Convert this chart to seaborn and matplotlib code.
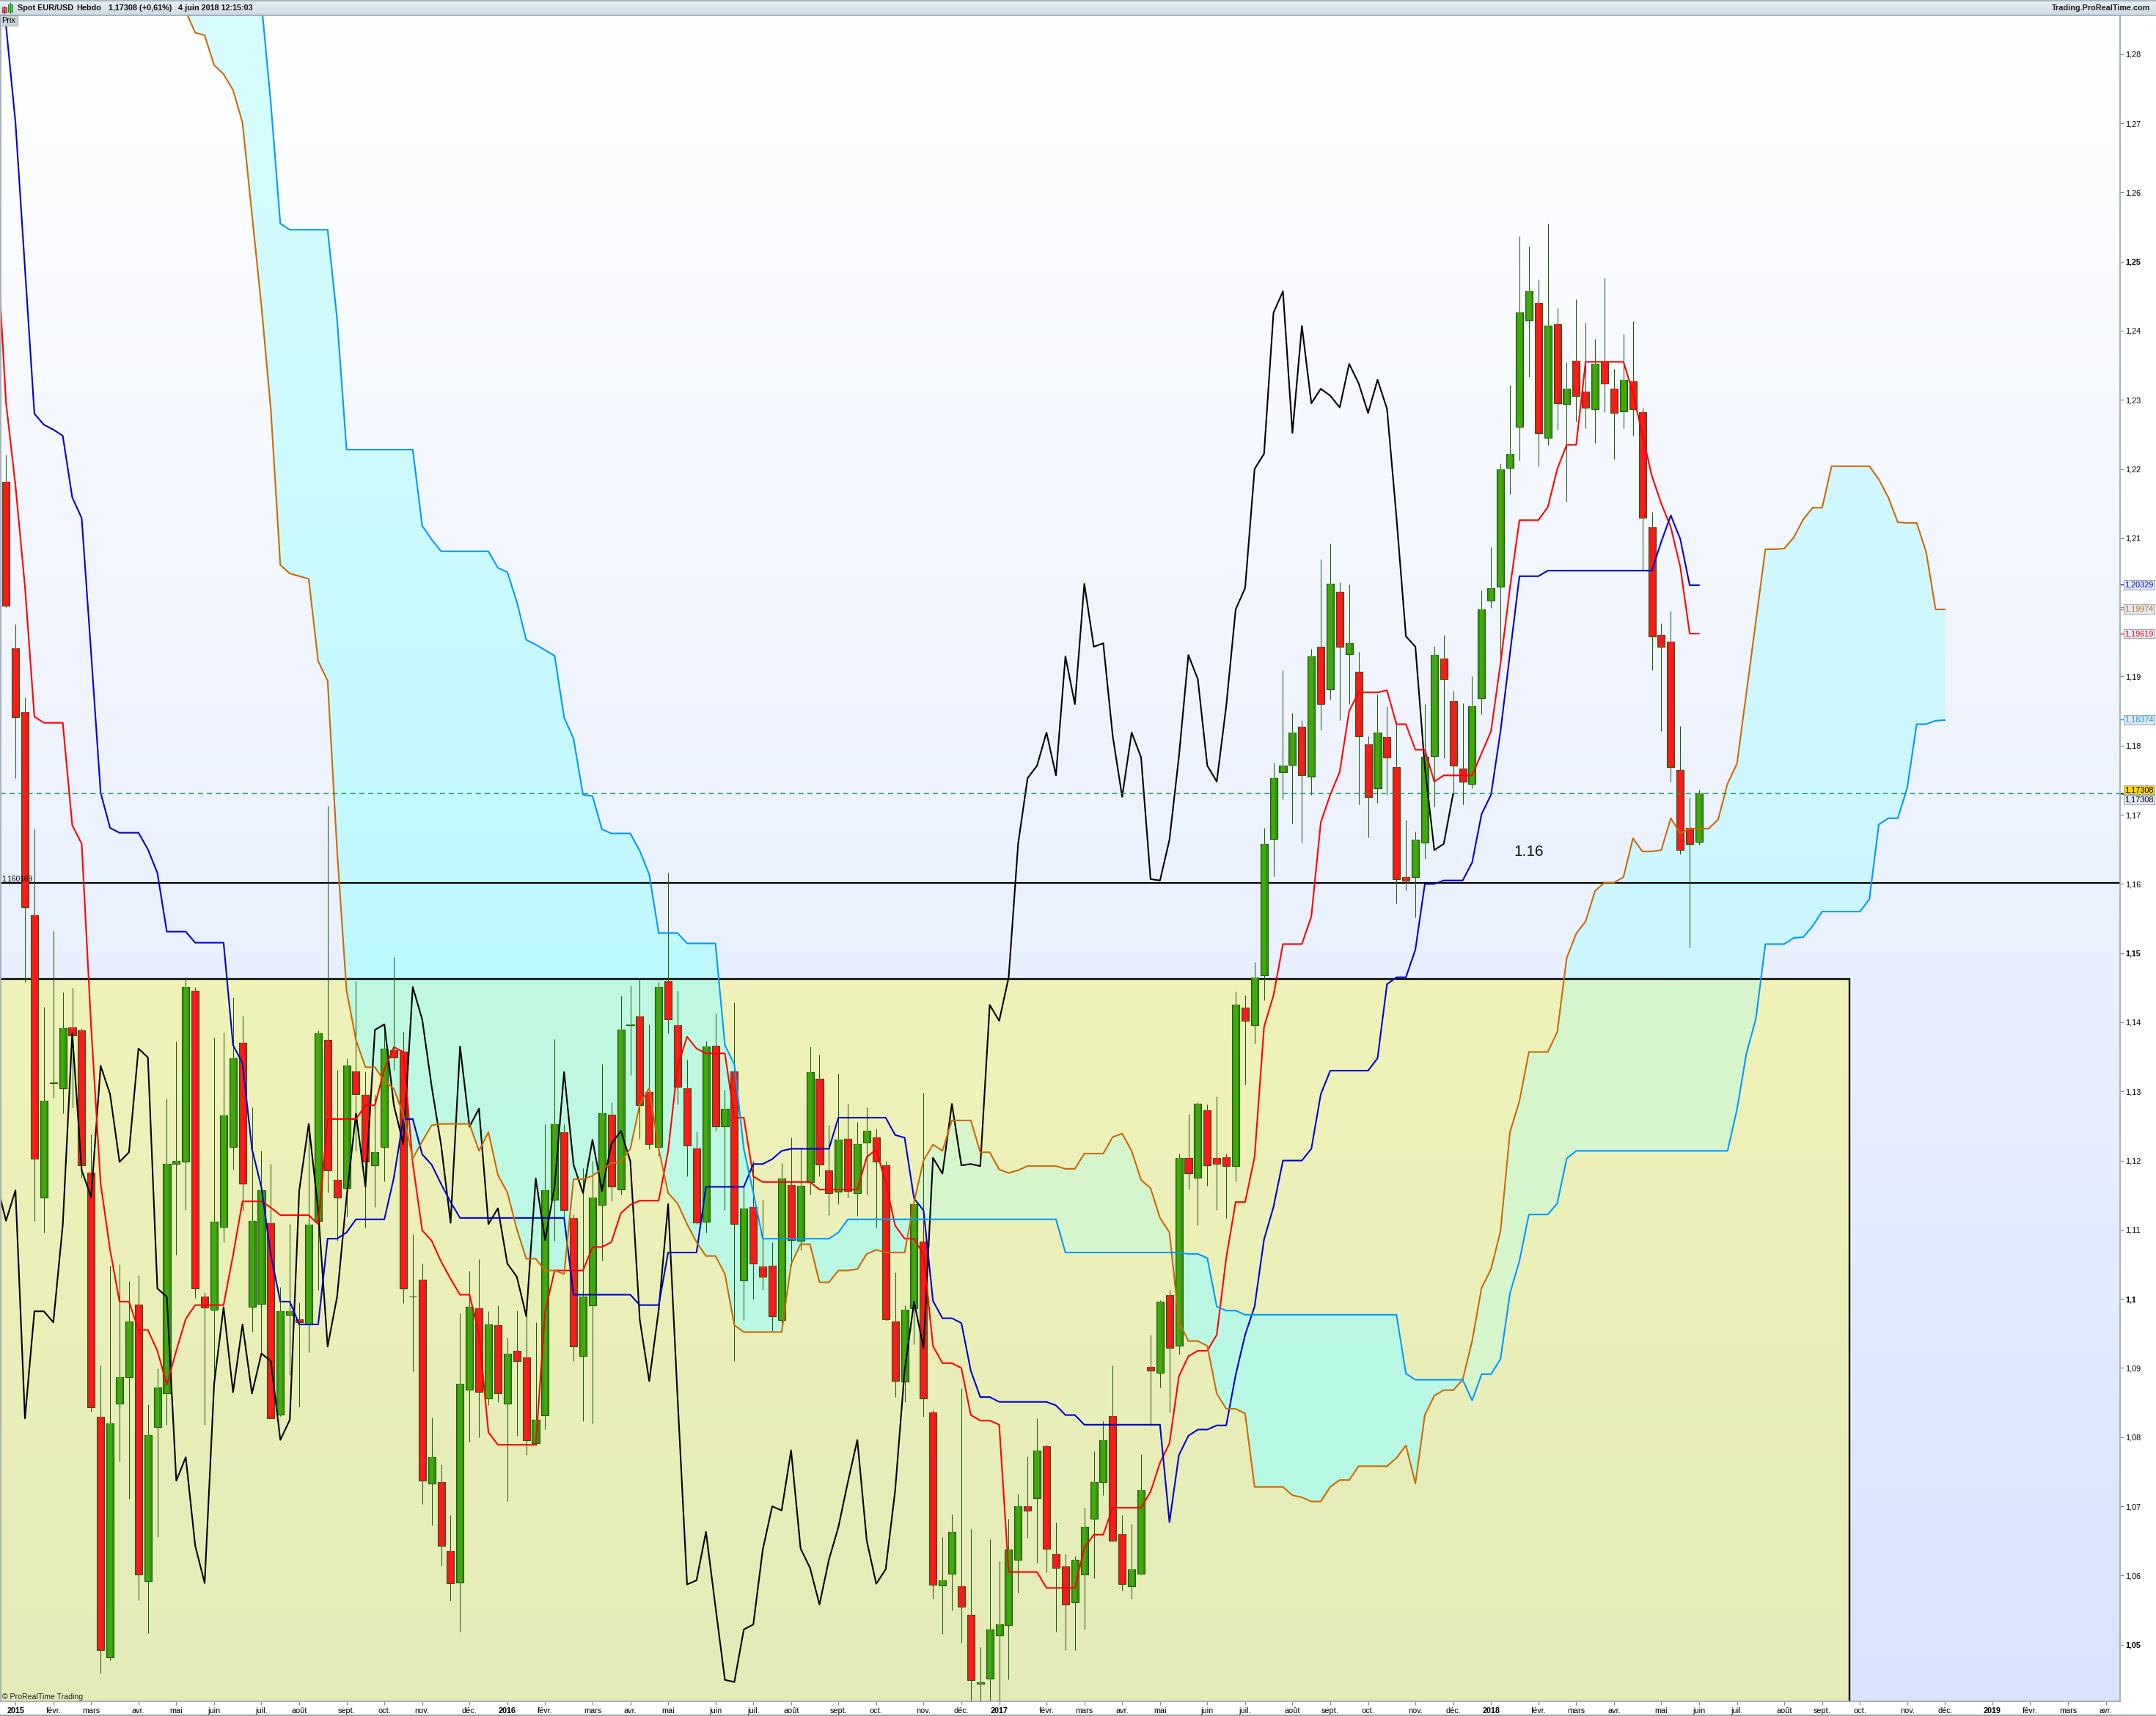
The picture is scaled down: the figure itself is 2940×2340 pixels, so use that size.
import numpy
import seaborn
import matplotlib.pyplot as plot
from matplotlib.path import Path
from matplotlib.patches import Rectangle

# values, one entry per week, week 0 is the first candle
opens = [1.2182, 1.1941, 1.1849, 1.1555, 1.1146, 1.1312, 1.1305, 1.1393, 1.1388, 1.1183,
         1.0829, 1.0482, 1.0849, 1.0887, 1.0992, 1.0592, 1.0815, 1.0863, 1.1195, 1.1199,
         1.1446, 1.1003, 1.0984, 1.1104, 1.1220, 1.1370, 1.0989, 1.0993, 1.1109, 1.0833,
         1.0977, 1.0971, 1.0963, 1.1113, 1.1374, 1.1172, 1.1160, 1.1329, 1.1295, 1.1193,
         1.1220, 1.1360, 1.1358, 1.1003, 1.1028, 1.0733, 1.0735, 1.0635, 1.0590, 1.0869,
         1.0986, 1.0856, 1.0962, 1.0849, 1.0925, 1.0915, 1.0791, 1.0832, 1.1143, 1.1241,
         1.1117, 1.0917, 1.0991, 1.1136, 1.1266, 1.1158, 1.1396, 1.1408, 1.1299, 1.1220,
         1.1459, 1.1396, 1.1304, 1.1218, 1.1111, 1.1366, 1.1249, 1.1329, 1.1027, 1.1133,
         1.1047, 1.1048, 1.0969, 1.1165, 1.1084, 1.1169, 1.1318, 1.1186, 1.1155, 1.1231,
         1.1153, 1.1226, 1.1234, 1.1193, 1.0967, 1.0880, 1.0986, 1.1083, 1.0836, 1.0586,
         1.0603, 1.0584, 1.0543, 1.0443, 1.0451, 1.0513, 1.0528, 1.0623, 1.0700, 1.0712,
         1.0787, 1.0631, 1.0613, 1.0561, 1.0601, 1.0682, 1.0735, 1.0831, 1.0660, 1.0584,
         1.0603, 1.0902, 1.0893, 1.1005, 1.0932, 1.1204, 1.1175, 1.1273, 1.1204, 1.1205,
         1.1192, 1.1421, 1.1396, 1.1468, 1.1665, 1.1762, 1.1772, 1.1827, 1.1755, 1.1943,
         1.1881, 1.2022, 1.1932, 1.1907, 1.1802, 1.1738, 1.1812, 1.1769, 1.1610, 1.1610,
         1.1660, 1.1785, 1.1926, 1.1864, 1.1767, 1.1745, 1.1869, 1.2010, 1.2030, 1.2202,
         1.2261, 1.2415, 1.2440, 1.2245, 1.2409, 1.2294, 1.2356, 1.2312, 1.2287, 1.2355,
         1.2316, 1.2283, 1.2327, 1.2282, 1.2116, 1.1960, 1.1950, 1.1765, 1.1681, 1.1661]
highs = [1.2221, 1.1976, 1.1870, 1.1680, 1.1422, 1.1533, 1.1443, 1.1450, 1.1392, 1.1238,
         1.0904, 1.1048, 1.1050, 1.1026, 1.1034, 1.0848, 1.0899, 1.1290, 1.1372, 1.1466,
         1.1451, 1.1010, 1.1378, 1.1385, 1.1436, 1.1409, 1.1277, 1.1214, 1.1195, 1.1017,
         1.1108, 1.0995, 1.1253, 1.1388, 1.1713, 1.1331, 1.1348, 1.1459, 1.1329, 1.1295,
         1.1395, 1.1494, 1.1386, 1.1094, 1.1051, 1.0828, 1.0761, 1.0687, 1.0979, 1.1040,
         1.1057, 1.0982, 1.0991, 1.0944, 1.0983, 1.0982, 1.0966, 1.1253, 1.1376, 1.1253,
         1.1122, 1.1189, 1.1200, 1.1340, 1.1284, 1.1438, 1.1453, 1.1464, 1.1397, 1.1458,
         1.1616, 1.1446, 1.1346, 1.1242, 1.1372, 1.1413, 1.1302, 1.1429, 1.1165, 1.1200,
         1.1143, 1.1082, 1.1196, 1.1233, 1.1219, 1.1365, 1.1353, 1.1251, 1.1326, 1.1282,
         1.1256, 1.1277, 1.1246, 1.1200, 1.1038, 1.0991, 1.1140, 1.1298, 1.0839, 1.0656,
         1.0688, 1.0871, 1.0667, 1.0497, 1.0652, 1.0621, 1.0682, 1.0718, 1.0772, 1.0827,
         1.0789, 1.0677, 1.0631, 1.0628, 1.0698, 1.0780, 1.0823, 1.0904, 1.0687, 1.0675,
         1.0775, 1.0948, 1.0998, 1.1013, 1.1210, 1.1267, 1.1284, 1.1281, 1.1293, 1.1210,
         1.1444, 1.1439, 1.1487, 1.1681, 1.1775, 1.1909, 1.1847, 1.1837, 1.1940, 1.2069,
         1.2092, 1.2036, 1.2033, 1.1936, 1.1814, 1.1874, 1.1857, 1.1835, 1.1693, 1.1676,
         1.1860, 1.1944, 1.1960, 1.1879, 1.1861, 1.1900, 1.2025, 1.2087, 1.2208, 1.2322,
         1.2537, 1.2522, 1.2474, 1.2555, 1.2433, 1.2354, 1.2446, 1.2412, 1.2388, 1.2476,
         1.2345, 1.2396, 1.2414, 1.2289, 1.2138, 1.1977, 1.1995, 1.1828, 1.1726, 1.1736]
lows = [1.2000, 1.1753, 1.1458, 1.1113, 1.1096, 1.1291, 1.1268, 1.1277, 1.1175, 1.0837,
        1.0458, 1.0477, 1.0765, 1.0711, 1.0564, 1.0517, 1.0656, 1.0818, 1.1064, 1.1129,
        1.1001, 1.0818, 1.0879, 1.1082, 1.1187, 1.1127, 1.0952, 1.0918, 1.0827, 1.0830,
        1.0890, 1.0844, 1.0923, 1.1013, 1.1154, 1.1084, 1.1119, 1.1214, 1.1103, 1.1133,
        1.1170, 1.1331, 1.0994, 1.0895, 1.0703, 1.0672, 1.0614, 1.0563, 1.0519, 1.0793,
        1.0800, 1.0846, 1.0851, 1.0707, 1.0802, 1.0774, 1.0788, 1.0811, 1.1084, 1.1119,
        1.0910, 1.0823, 1.0820, 1.1055, 1.1141, 1.1151, 1.1324, 1.1231, 1.1216, 1.1207,
        1.1384, 1.1281, 1.1177, 1.1108, 1.1096, 1.1243, 1.1129, 1.0910, 1.0969, 1.0999,
        1.1013, 1.0953, 1.0964, 1.1048, 1.1070, 1.1151, 1.1177, 1.1121, 1.1137, 1.1147,
        1.1120, 1.1151, 1.1103, 1.0968, 1.0858, 1.0851, 1.0934, 1.0829, 1.0566, 1.0516,
        1.0550, 1.0503, 1.0416, 1.0416, 1.0416, 1.0416, 1.0450, 1.0575, 1.0654, 1.0618,
        1.0605, 1.0519, 1.0492, 1.0492, 1.0522, 1.0596, 1.0716, 1.0649, 1.0578, 1.0566,
        1.0601, 1.0817, 1.0872, 1.0836, 1.0920, 1.1158, 1.1106, 1.1164, 1.1129, 1.1117,
        1.1170, 1.1310, 1.1369, 1.1432, 1.1611, 1.1722, 1.1687, 1.1660, 1.1729, 1.1822,
        1.1867, 1.1837, 1.1860, 1.1715, 1.1667, 1.1717, 1.1729, 1.1572, 1.1591, 1.1552,
        1.1636, 1.1712, 1.1782, 1.1729, 1.1715, 1.1738, 1.1845, 1.1999, 1.1916, 1.2164,
        1.2212, 1.2333, 1.2204, 1.2234, 1.2257, 1.2153, 1.2268, 1.2259, 1.2238, 1.2282,
        1.2214, 1.2259, 1.2248, 1.2053, 1.1909, 1.1821, 1.1748, 1.1643, 1.1508, 1.1657]
closes = [1.2002, 1.1841, 1.1566, 1.1203, 1.1286, 1.1313, 1.1391, 1.1381, 1.1193, 1.0843,
          1.0492, 1.0820, 1.0887, 1.0967, 1.0601, 1.0803, 1.0872, 1.1195, 1.1200, 1.1451,
          1.1015, 1.0987, 1.1111, 1.1265, 1.1348, 1.1167, 1.1113, 1.1157, 1.0827, 1.0982,
          1.0982, 1.0966, 1.1107, 1.1384, 1.1186, 1.1147, 1.1337, 1.1296, 1.1198, 1.1212,
          1.1362, 1.1349, 1.1015, 1.1003, 1.0737, 1.0771, 1.0643, 1.0589, 1.0877, 1.0988,
          1.0865, 1.0963, 1.0863, 1.0921, 1.0910, 1.0796, 1.0825, 1.1157, 1.1253, 1.1128,
          1.0931, 1.1003, 1.1147, 1.1268, 1.1162, 1.1389, 1.1397, 1.1280, 1.1224, 1.1451,
          1.1404, 1.1307, 1.1222, 1.1110, 1.1365, 1.1249, 1.1275, 1.1108, 1.1131, 1.1051,
          1.1032, 1.0975, 1.1174, 1.1085, 1.1163, 1.1328, 1.1194, 1.1153, 1.1230, 1.1156,
          1.1224, 1.1243, 1.1199, 1.0970, 1.0881, 1.0984, 1.1137, 1.0856, 1.0587, 1.0593,
          1.0663, 1.0555, 1.0449, 1.0446, 1.0522, 1.0529, 1.0637, 1.0700, 1.0694, 1.0781,
          1.0639, 1.0611, 1.0558, 1.0623, 1.0670, 1.0735, 1.0796, 1.0650, 1.0588, 1.0609,
          1.0723, 1.0896, 1.0996, 1.0929, 1.1204, 1.1181, 1.1282, 1.1193, 1.1195, 1.1192,
          1.1425, 1.1402, 1.1465, 1.1658, 1.1753, 1.1771, 1.1819, 1.1757, 1.1929, 1.1860,
          1.2034, 1.1943, 1.1948, 1.1814, 1.1726, 1.1819, 1.1783, 1.1607, 1.1605, 1.1664,
          1.1784, 1.1931, 1.1896, 1.1771, 1.1748, 1.1857, 1.1997, 1.2028, 1.2200, 1.2222,
          1.2426, 1.2457, 1.2252, 1.2407, 1.2295, 1.2316, 1.2306, 1.2289, 1.2352, 1.2324,
          1.2281, 1.2329, 1.2287, 1.2130, 1.1958, 1.1943, 1.1769, 1.1649, 1.1658, 1.1731]

# from week -1
tenkan = [1.2538, 1.2296, 1.2176, 1.2030, 1.1842, 1.1833, 1.1833, 1.1833, 1.1685, 1.1658,
          1.1393, 1.1167, 1.1071, 1.0996, 1.0996, 1.0955, 1.0955, 1.0925, 1.0876, 1.0925,
          1.0971, 1.0991, 1.0991, 1.0991, 1.0991, 1.1063, 1.1141, 1.1141, 1.1141, 1.1132,
          1.1121, 1.1121, 1.1121, 1.1121, 1.1108, 1.1260, 1.1260, 1.1260, 1.1260, 1.1280,
          1.1280, 1.1332, 1.1364, 1.1357, 1.1196, 1.1099, 1.1084, 1.1054, 1.1029, 1.1006,
          1.1006, 1.0950, 1.0807, 1.0789, 1.0789, 1.0789, 1.0789, 1.0789, 1.0982, 1.1041,
          1.1041, 1.1041, 1.1041, 1.1075, 1.1075, 1.1082, 1.1124, 1.1136, 1.1142, 1.1142,
          1.1142, 1.1214, 1.1336, 1.1379, 1.1362, 1.1355, 1.1355, 1.1355, 1.1262, 1.1262,
          1.1177, 1.1169, 1.1169, 1.1169, 1.1169, 1.1169, 1.1169, 1.1158, 1.1158, 1.1158,
          1.1158, 1.1158, 1.1205, 1.1216, 1.1168, 1.1106, 1.1087, 1.1087, 1.1064, 1.0932,
          1.0907, 1.0907, 1.0900, 1.0832, 1.0824, 1.0824, 1.0818, 1.0605, 1.0605, 1.0605,
          1.0605, 1.0582, 1.0582, 1.0582, 1.0582, 1.0640, 1.0659, 1.0659, 1.0698, 1.0698,
          1.0698, 1.0698, 1.0721, 1.0763, 1.0791, 1.0888, 1.0917, 1.0925, 1.0925, 1.0948,
          1.1059, 1.1140, 1.1140, 1.1205, 1.1393, 1.1439, 1.1513, 1.1513, 1.1513, 1.1553,
          1.1689, 1.1729, 1.1762, 1.1850, 1.1877, 1.1877, 1.1877, 1.1880, 1.1831, 1.1831,
          1.1794, 1.1794, 1.1748, 1.1757, 1.1757, 1.1757, 1.1757, 1.1789, 1.1821, 1.1919,
          1.2028, 1.2126, 1.2126, 1.2126, 1.2145, 1.2200, 1.2235, 1.2235, 1.2355, 1.2355,
          1.2355, 1.2355, 1.2355, 1.2310, 1.2250, 1.2190, 1.2150, 1.2116, 1.2059, 1.1962,
          1.1962]
# from week -1
kijun = [1.2980, 1.2841, 1.2701, 1.2491, 1.2280, 1.2264, 1.2257, 1.2248, 1.2159, 1.2129,
         1.1933, 1.1732, 1.1681, 1.1674, 1.1674, 1.1674, 1.1650, 1.1616, 1.1531, 1.1531,
         1.1531, 1.1515, 1.1515, 1.1515, 1.1515, 1.1367, 1.1341, 1.1217, 1.1161, 1.1063,
         1.0996, 1.0996, 1.0963, 1.0963, 1.0963, 1.1087, 1.1087, 1.1096, 1.1115, 1.1115,
         1.1115, 1.1115, 1.1175, 1.1260, 1.1260, 1.1209, 1.1194, 1.1166, 1.1140, 1.1117,
         1.1117, 1.1117, 1.1117, 1.1117, 1.1117, 1.1117, 1.1117, 1.1117, 1.1117, 1.1117,
         1.1117, 1.1006, 1.1006, 1.1006, 1.1006, 1.1006, 1.1006, 1.1006, 1.0991, 1.0991,
         1.0991, 1.1067, 1.1067, 1.1067, 1.1067, 1.1162, 1.1162, 1.1162, 1.1162, 1.1162,
         1.1195, 1.1195, 1.1202, 1.1214, 1.1217, 1.1217, 1.1217, 1.1217, 1.1217, 1.1262,
         1.1262, 1.1262, 1.1262, 1.1262, 1.1262, 1.1237, 1.1233, 1.1145, 1.1128, 1.0997,
         1.0972, 1.0972, 1.0965, 1.0896, 1.0858, 1.0858, 1.0851, 1.0851, 1.0851, 1.0851,
         1.0851, 1.0851, 1.0846, 1.0832, 1.0832, 1.0818, 1.0818, 1.0818, 1.0818, 1.0818,
         1.0818, 1.0818, 1.0818, 1.0818, 1.0677, 1.0774, 1.0802, 1.0811, 1.0811, 1.0817,
         1.0817, 1.0890, 1.0948, 1.0989, 1.1086, 1.1133, 1.1200, 1.1200, 1.1200, 1.1217,
         1.1296, 1.1330, 1.1330, 1.1330, 1.1330, 1.1330, 1.1348, 1.1455, 1.1465, 1.1465,
         1.1505, 1.1600, 1.1600, 1.1605, 1.1605, 1.1605, 1.1631, 1.1701, 1.1729, 1.1821,
         1.1933, 1.2045, 1.2045, 1.2045, 1.2053, 1.2053, 1.2053, 1.2053, 1.2053, 1.2053,
         1.2053, 1.2053, 1.2053, 1.2053, 1.2053, 1.2053, 1.2095, 1.2133, 1.2099, 1.2032,
         1.2032]
# from week -1 to week 153, the closes 26 weeks back
chikou = [1.1167, 1.1113, 1.1157, 1.0827, 1.0982,
          1.0982, 1.0966, 1.1107, 1.1384, 1.1186, 1.1147, 1.1337, 1.1296, 1.1198, 1.1212,
          1.1362, 1.1349, 1.1015, 1.1003, 1.0737, 1.0771, 1.0643, 1.0589, 1.0877, 1.0988,
          1.0865, 1.0963, 1.0863, 1.0921, 1.0910, 1.0796, 1.0825, 1.1157, 1.1253, 1.1128,
          1.0931, 1.1003, 1.1147, 1.1268, 1.1162, 1.1389, 1.1397, 1.1280, 1.1224, 1.1451,
          1.1404, 1.1307, 1.1222, 1.1110, 1.1365, 1.1249, 1.1275, 1.1108, 1.1131, 1.1051,
          1.1032, 1.0975, 1.1174, 1.1085, 1.1163, 1.1328, 1.1194, 1.1153, 1.1230, 1.1156,
          1.1224, 1.1243, 1.1199, 1.0970, 1.0881, 1.0984, 1.1137, 1.0856, 1.0587, 1.0593,
          1.0663, 1.0555, 1.0449, 1.0446, 1.0522, 1.0529, 1.0637, 1.0700, 1.0694, 1.0781,
          1.0639, 1.0611, 1.0558, 1.0623, 1.0670, 1.0735, 1.0796, 1.0650, 1.0588, 1.0609,
          1.0723, 1.0896, 1.0996, 1.0929, 1.1204, 1.1181, 1.1282, 1.1193, 1.1195, 1.1192,
          1.1425, 1.1402, 1.1465, 1.1658, 1.1753, 1.1771, 1.1819, 1.1757, 1.1929, 1.1860,
          1.2034, 1.1943, 1.1948, 1.1814, 1.1726, 1.1819, 1.1783, 1.1607, 1.1605, 1.1664,
          1.1784, 1.1931, 1.1896, 1.1771, 1.1748, 1.1857, 1.1997, 1.2028, 1.2200, 1.2222,
          1.2426, 1.2457, 1.2252, 1.2407, 1.2295, 1.2316, 1.2306, 1.2289, 1.2352, 1.2324,
          1.2281, 1.2329, 1.2287, 1.2130, 1.1958, 1.1943, 1.1769, 1.1649, 1.1658, 1.1731]
# from week 19 to week 205
span_a = [1.2862, 1.2831, 1.2827, 1.2784, 1.2771, 1.2748, 1.2701, 1.2568, 1.2436, 1.2285,
          1.2061, 1.2049, 1.2045, 1.2041, 1.1922, 1.1894, 1.1648, 1.1446, 1.1374, 1.1335,
          1.1335, 1.1315, 1.1304, 1.1267, 1.1203, 1.1228, 1.1251, 1.1253, 1.1253, 1.1253,
          1.1253, 1.1214, 1.1241, 1.1179, 1.1154, 1.1101, 1.1058, 1.1058, 1.1041, 1.1041,
          1.1036, 1.1173, 1.1173, 1.1178, 1.1188, 1.1196, 1.1198, 1.1217, 1.1281, 1.1305,
          1.1217, 1.1153, 1.1138, 1.1108, 1.1082, 1.1062, 1.1062, 1.1036, 1.0962, 1.0952,
          1.0952, 1.0952, 1.0952, 1.0952, 1.1050, 1.1079, 1.1079, 1.1024, 1.1024, 1.1041,
          1.1041, 1.1043, 1.1065, 1.1071, 1.1067, 1.1067, 1.1067, 1.1140, 1.1200, 1.1223,
          1.1214, 1.1258, 1.1258, 1.1258, 1.1212, 1.1212, 1.1187, 1.1182, 1.1186, 1.1192,
          1.1192, 1.1192, 1.1192, 1.1188, 1.1188, 1.1210, 1.1210, 1.1210, 1.1234, 1.1239,
          1.1214, 1.1172, 1.1160, 1.1117, 1.1096, 1.0967, 1.0939, 1.0939, 1.0932, 1.0863,
          1.0841, 1.0841, 1.0834, 1.0728, 1.0728, 1.0728, 1.0728, 1.0716, 1.0713, 1.0707,
          1.0707, 1.0728, 1.0738, 1.0738, 1.0758, 1.0758, 1.0758, 1.0758, 1.0770, 1.0788,
          1.0733, 1.0832, 1.0860, 1.0868, 1.0868, 1.0883, 1.0939, 1.1016, 1.1043, 1.1098,
          1.1241, 1.1286, 1.1357, 1.1357, 1.1357, 1.1386, 1.1493, 1.1528, 1.1546, 1.1590,
          1.1602, 1.1602, 1.1610, 1.1666, 1.1647, 1.1647, 1.1649, 1.1695, 1.1673, 1.1680,
          1.1680, 1.1680, 1.1693, 1.1745, 1.1774, 1.1877, 1.1980, 1.2084, 1.2084, 1.2085,
          1.2101, 1.2127, 1.2144, 1.2144, 1.2204, 1.2204, 1.2204, 1.2204, 1.2204, 1.2185,
          1.2159, 1.2123, 1.2122, 1.2122, 1.2080, 1.1997, 1.1997]
# from week 19 to week 205, the first eight are above the top of the chart
span_b = [1.3600, 1.3500, 1.3400, 1.3300, 1.3200, 1.3100, 1.3050, 1.3030, 1.2875, 1.2728,
          1.2555, 1.2546, 1.2546, 1.2546, 1.2546, 1.2546, 1.2417, 1.2228, 1.2228, 1.2228,
          1.2228, 1.2228, 1.2228, 1.2228, 1.2228, 1.2118, 1.2098, 1.2081, 1.2081, 1.2081,
          1.2081, 1.2081, 1.2081, 1.2057, 1.2051, 1.2008, 1.1953, 1.1946, 1.1938, 1.1930,
          1.1841, 1.1810, 1.1729, 1.1727, 1.1679, 1.1673, 1.1673, 1.1673, 1.1648, 1.1614,
          1.1529, 1.1529, 1.1529, 1.1514, 1.1514, 1.1514, 1.1514, 1.1367, 1.1339, 1.1217,
          1.1154, 1.1087, 1.1087, 1.1087, 1.1087, 1.1087, 1.1087, 1.1087, 1.1087, 1.1096,
          1.1115, 1.1115, 1.1115, 1.1115, 1.1115, 1.1115, 1.1115, 1.1115, 1.1115, 1.1115,
          1.1115, 1.1115, 1.1115, 1.1115, 1.1115, 1.1115, 1.1115, 1.1115, 1.1115, 1.1115,
          1.1115, 1.1115, 1.1115, 1.1067, 1.1067, 1.1067, 1.1067, 1.1067, 1.1067, 1.1067,
          1.1067, 1.1067, 1.1067, 1.1067, 1.1067, 1.1067, 1.1065, 1.1065, 1.1059, 1.0989,
          1.0983, 1.0983, 1.0977, 1.0977, 1.0977, 1.0977, 1.0977, 1.0977, 1.0977, 1.0977,
          1.0977, 1.0977, 1.0977, 1.0977, 1.0977, 1.0977, 1.0977, 1.0977, 1.0977, 1.0892,
          1.0883, 1.0883, 1.0883, 1.0883, 1.0883, 1.0883, 1.0853, 1.0891, 1.0891, 1.0913,
          1.1008, 1.1055, 1.1122, 1.1122, 1.1122, 1.1138, 1.1203, 1.1214, 1.1214, 1.1214,
          1.1214, 1.1214, 1.1214, 1.1214, 1.1214, 1.1214, 1.1214, 1.1214, 1.1214, 1.1214,
          1.1214, 1.1214, 1.1214, 1.1214, 1.1274, 1.1355, 1.1405, 1.1513, 1.1513, 1.1513,
          1.1522, 1.1523, 1.1539, 1.1560, 1.1560, 1.1560, 1.1560, 1.1560, 1.1578, 1.1686,
          1.1695, 1.1695, 1.1739, 1.1831, 1.1831, 1.1836, 1.1837]

tick_weeks = [1, 5, 9, 14, 18, 22, 27, 31, 36, 40, 44, 49,
              53, 57, 62, 66, 70, 75, 79, 83, 88, 92, 97, 101,
              105, 110, 114, 118, 122, 127, 131, 136, 140, 144, 149, 153,
              157, 162, 166, 170, 175, 179, 183, 188, 192, 196, 201, 205,
              210, 214, 218, 222]
tick_names = ['2015', 'févr.', 'mars', 'avr.', 'mai', 'juin', 'juil.', 'août', 'sept.', 'oct.', 'nov.', 'déc.',
              '2016', 'févr.', 'mars', 'avr.', 'mai', 'juin', 'juil.', 'août', 'sept.', 'oct.', 'nov.', 'déc.',
              '2017', 'févr.', 'mars', 'avr.', 'mai', 'juin', 'juil.', 'août', 'sept.', 'oct.', 'nov.', 'déc.',
              '2018', 'févr.', 'mars', 'avr.', 'mai', 'juin', 'juil.', 'août', 'sept.', 'oct.', 'nov.', 'déc.',
              '2019', 'févr.', 'mars', 'avr.']
price_ticks = [1.05, 1.06, 1.07, 1.08, 1.09, 1.10, 1.11, 1.12, 1.13, 1.14, 1.15, 1.16,
               1.17, 1.18, 1.19, 1.20, 1.21, 1.22, 1.23, 1.24, 1.25, 1.26, 1.27, 1.28]
price_names = ['1,05', '1,06', '1,07', '1,08', '1,09', '1,1', '1,11', '1,12', '1,13', '1,14', '1,15', '1,16',
               '1,17', '1,18', '1,19', '', '1,21', '1,22', '1,23', '1,24', '1,25', '1,26', '1,27', '1,28']
bold_prices = ['1,05', '1,1', '1,15', '1,25']

last_price = 1.17308
level_line = 1.160169
zone_top = 1.1463
zone_end = 194.9
y_low, y_high = 1.0418, 1.2857
x_low, x_high = -0.56, 223.5

seaborn.set_theme(style='white')
plot.rcParams['font.family'] = ['Liberation Sans', 'DejaVu Sans']

fig = plot.figure(figsize=(29.4, 23.4), dpi=100, facecolor='white')
ax = fig.add_axes([1 / 2940, 20 / 2340, 2890 / 2940, 2300 / 2340])


def gradient(extent, top, bottom, zorder, clip=None):
    colours = numpy.linspace(top, bottom, 256).reshape(256, 1, 3) / 255
    im = ax.imshow(colours, extent=extent, origin='upper', aspect='auto', zorder=zorder, interpolation='bilinear')
    if clip is not None:
        im.set_clip_path(clip, transform=ax.transData)


def cloud_path(upper, lower):
    poly = ax.fill_between(span_weeks, lower, upper, where=upper >= lower, interpolate=True)
    path = Path.make_compound_path(*poly.get_paths())
    poly.remove()
    return path


# background and the yellow zone
gradient((x_low, x_high, y_low, y_high), (255, 255, 255), (216, 228, 254), 0)
gradient((x_low, zone_end, y_low, zone_top), (240, 243, 184), (228, 235, 185), 1)

# cloud, other colours inside the yellow zone
span_weeks = numpy.arange(19, 19 + len(span_a))
a_values, b_values = numpy.array(span_a), numpy.array(span_b)
bear_path = cloud_path(b_values, a_values)
bull_path = cloud_path(a_values, b_values)
gradient((19, 206, zone_top, y_high), (216, 253, 255), (190, 248, 255), 2, bear_path)
gradient((19, 206, zone_top, y_high), (212, 249, 255), (204, 246, 255), 2, bull_path)
gradient((19, 206, y_low, zone_top), (192, 249, 225), (180, 248, 232), 2, bear_path)
gradient((19, 206, y_low, zone_top), (214, 246, 205), (214, 245, 205), 2, bull_path)

ax.add_patch(Rectangle((x_low - 1, y_low - 0.01), zone_end - x_low + 1, zone_top - y_low + 0.01,
                       fill=False, edgecolor='black', linewidth=1.7, zorder=3))
ax.axhline(level_line, color='black', linewidth=1.5, zorder=3)
ax.axhline(last_price, color='#0a9a3c', linewidth=1.1, linestyle=(0, (4.5, 3.5)), zorder=6)

# candles
weeks = numpy.arange(len(closes))
op, hi, lo, cl = numpy.array(opens), numpy.array(highs), numpy.array(lows), numpy.array(closes)
ax.vlines(weeks, lo, hi, color='#1f5c10', linewidth=0.75, zorder=4)
up = cl >= op
body_low, body_size = numpy.minimum(op, cl), numpy.abs(cl - op)
ax.bar(weeks[up], body_size[up], 0.78, body_low[up], color='#36900f', edgecolor='#1f5c10', linewidth=0.8, zorder=4.1)
ax.bar(weeks[up], body_size[up], 0.42, body_low[up], color='#42a80e', linewidth=0, zorder=4.2)
ax.bar(weeks[~up], body_size[~up], 0.78, body_low[~up], color='#e81c1c', edgecolor='#1f5c10', linewidth=0.8, zorder=4.1)
ax.bar(weeks[~up], body_size[~up], 0.42, body_low[~up], color='#ff1a1a', linewidth=0, zorder=4.2)

# ichimoku lines
lines = [(chikou, -1, 'black'), (tenkan, -1, '#ff0000'), (kijun, -1, '#0000cc'),
         (span_a, 19, '#cc6a00'), (span_b, 19, '#0099ff')]
for values, first, colour in lines:
    seaborn.lineplot(x=numpy.arange(first, first + len(values)), y=values, ax=ax, color=colour,
                     linewidth=1.5, estimator=None, sort=False, legend=False, zorder=5)

ax.text(161, 1.1647, '1.16', fontsize=15, color='#111111', ha='center', va='center', zorder=7)
ax.annotate('1,160169', xy=(0, level_line), xycoords=ax.get_yaxis_transform(), xytext=(1, 1.5),
            textcoords='offset points', fontsize=7.2, color='black', zorder=7)
ax.text(0.0008, 0.0006, '© ProRealTime Trading', transform=ax.transAxes, fontsize=7.6, color='#222222',
        va='bottom', zorder=7)

ax.set_xlim(x_low, x_high)
ax.set_ylim(y_low, y_high)
ax.set_xlabel('')
ax.set_ylabel('')
ax.set_xticks(tick_weeks, tick_names)
ax.set_yticks(price_ticks, price_names)
ax.yaxis.tick_right()
ax.tick_params(axis='both', length=3.6, width=0.9, color='#7f8a90', labelsize=7.8, labelcolor='black',
               bottom=True, right=True, left=False, pad=1.8)
for label in ax.get_xticklabels():
    if label.get_text().isdigit():
        label.set_fontweight('bold')
for label in ax.get_yticklabels():
    if label.get_text() in bold_prices:
        label.set_fontweight('bold')
for side in ax.spines:
    ax.spines[side].set_color('#9aa5ad')
    ax.spines[side].set_linewidth(1.2)
    ax.spines[side].set_zorder(8)

# indicator value boxes on the price scale
boxes = [(1.20329, '#0000cc', '#e4eaf6', 0), (1.19974, '#cc6a00', '#e4eaf6', 0), (1.19619, '#ff0000', '#e4eaf6', 0),
         (1.18374, '#0099ff', '#e4eaf6', 0), (last_price, 'black', '#ffd60a', 3.6), (last_price, 'black', '#e4eaf6', -6.2)]
for price, colour, back, shift in boxes:
    ax.plot([1, 1.002], [price, price], color=colour, linewidth=1, transform=ax.get_yaxis_transform(), clip_on=False, zorder=8)
    ax.annotate(f'{price:.5f}'.replace('.', ','), xy=(1, price), xycoords=ax.get_yaxis_transform(),
                xytext=(4.6, shift), textcoords='offset points', fontsize=7.8, color=colour, va='center', ha='left',
                annotation_clip=False, zorder=9,
                bbox=dict(boxstyle='square,pad=0.13', facecolor=back, edgecolor='#9aa5ad', linewidth=0.8))

# window header, drawn in pixels of the screenshot
top = fig.add_axes([0, 0, 1, 1], facecolor='none', zorder=20)
top.set_xlim(0, 2940)
top.set_ylim(2340, 0)
top.axis('off')
top.imshow(numpy.linspace((232, 241, 246), (205, 220, 228), 32).reshape(32, 1, 3) / 255,
           extent=(0, 2940, 20, 0), aspect='auto')
top.set_xlim(0, 2940)
top.set_ylim(2340, 0)
top.plot([0, 2940], [20.5, 20.5], color='#9aa5ad', linewidth=1.1)
top.plot([0, 2940], [0.5, 0.5], color='#9aa5ad', linewidth=1.1)
top.plot([0, 2940], [2339, 2339], color='#9aa5ad', linewidth=1.4)
top.add_patch(Rectangle((0, 21), 24, 14, facecolor='#c8d4da', edgecolor='#9aa5ad', linewidth=0.7))
top.text(2.5, 28, 'Prix', fontsize=7.8, color='black', va='center')
top.add_patch(Rectangle((3, 10), 6.5, 7, facecolor='#e8606a', edgecolor='#7a2a2a', linewidth=0.6))
top.add_patch(Rectangle((11, 6), 6, 9.5, facecolor='#4fd84f', edgecolor='#1f6a1f', linewidth=0.6))
top.plot([6, 6], [8, 19], color='#7a2a2a', linewidth=0.6)
top.plot([14, 14], [3, 18], color='#1f6a1f', linewidth=0.6)
for left, text in [(24, 'Spot EUR/USD'), (104, 'Hebdo'), (148, '1,17308 (+0,61%)'), (243, '4 juin 2018 12:15:03')]:
    top.text(left, 11, text, fontsize=7.8, fontweight='bold', color='#111111', va='center')
top.text(2932, 11, 'Trading.ProRealTime.com', fontsize=7.8, fontweight='bold', color='#222222', va='center', ha='right')

fig.savefig('out.png', dpi=100)
